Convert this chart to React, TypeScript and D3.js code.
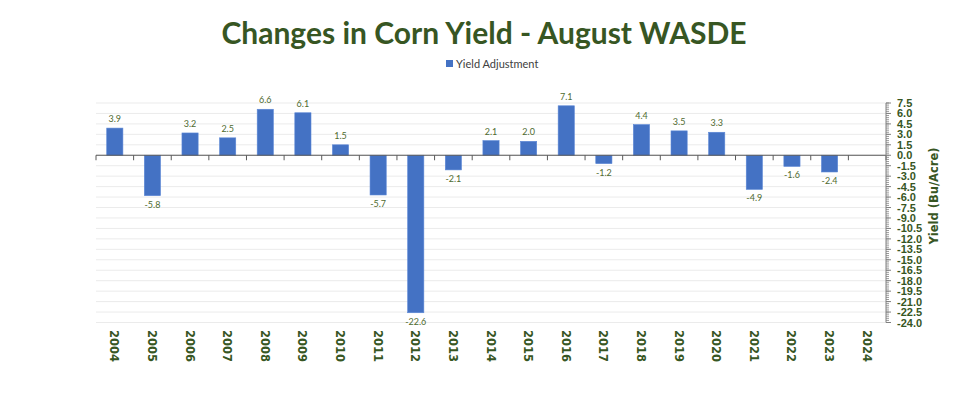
import { useEffect, useRef } from 'react';
import * as d3 from 'd3';

// chart data
const years = ['2004', '2005', '2006', '2007', '2008', '2009', '2010', '2011', '2012', '2013', '2014',
  '2015', '2016', '2017', '2018', '2019', '2020', '2021', '2022', '2023', '2024'];
const yieldAdjustment: (number | null)[] = [3.9, -5.8, 3.2, 2.5, 6.6, 6.1, 1.5, -5.7, -22.6, -2.1, 2.1,
  2.0, 7.1, -1.2, 4.4, 3.5, 3.3, -4.9, -1.6, -2.4, null];
const yTicks = d3.range(-24, 7.5 + 0.01, 1.5);
const minorTicks = d3.range(-24, 7.5 + 0.01, 0.3);

const title = 'Changes in Corn Yield - August WASDE';
const seriesName = 'Yield Adjustment';
const axisTitle = 'Yield (Bu/Acre)';

const GREEN = '#375623';
const BLUE = '#4472C4';

const fmt = (v: number) => v.toFixed(1);

const App = () => {
  const svgRef = useRef<SVGSVGElement>(null);

  useEffect(() => {
    const svg = d3.select(svgRef.current);
    svg.selectAll('*').remove();

    const width = 975;
    const height = 394;
    const plot = { left: 96, right: 886, top: 103, bottom: 322.5 };

    svg.attr('width', width).attr('height', height);

    const x = d3.scaleBand().domain(years).range([plot.left, plot.right]).paddingInner(0.57).paddingOuter(0.285);
    const y = d3.scaleLinear().domain([-24, 7.5]).range([plot.bottom, plot.top]);
    const step = x.step();

    // title
    svg.append('text')
      .attr('x', 484)
      .attr('y', 44)
      .attr('text-anchor', 'middle')
      .style('font-family', 'Lato, "Open Sans", sans-serif')
      .style('font-weight', 'bold')
      .style('font-size', '30px')
      .style('fill', GREEN)
      .text(title);

    // legend
    svg.append('rect').attr('x', 446).attr('y', 60).attr('width', 7).attr('height', 7).attr('fill', BLUE);
    svg.append('text')
      .attr('x', 456)
      .attr('y', 67.5)
      .style('font-family', 'Lato, "Open Sans", sans-serif')
      .style('font-size', '11px')
      .style('fill', '#404040')
      .text(seriesName);

    // gridlines
    svg.append('g')
      .selectAll('line')
      .data(yTicks)
      .enter()
      .append('line')
      .attr('x1', plot.left)
      .attr('x2', plot.right)
      .attr('y1', (d) => y(d))
      .attr('y2', (d) => y(d))
      .attr('stroke', '#ebebeb')
      .attr('stroke-width', 1);

    // bars
    const data = years.map((yr, i) => ({ yr, v: yieldAdjustment[i] })).filter((d) => d.v !== null) as { yr: string; v: number }[];

    svg.append('g')
      .selectAll('rect')
      .data(data)
      .enter()
      .append('rect')
      .attr('x', (d) => x(d.yr)!)
      .attr('width', x.bandwidth())
      .attr('y', (d) => y(Math.max(0, d.v)))
      .attr('height', (d) => Math.abs(y(d.v) - y(0)))
      .attr('fill', BLUE)
      .attr('stroke', '#5b87d6')
      .attr('stroke-width', 0.6);

    // data labels
    svg.append('g')
      .selectAll('text')
      .data(data)
      .enter()
      .append('text')
      .attr('x', (d) => x(d.yr)! + x.bandwidth() / 2)
      .attr('y', (d) => (d.v >= 0 ? y(d.v) - 6 : y(d.v) + 12))
      .attr('text-anchor', 'middle')
      .style('font-family', 'Lato, "Open Sans", sans-serif')
      .style('font-size', '9px')
      .style('fill', '#4f6b2f')
      .text((d) => fmt(d.v));

    // zero line with category ticks
    const zero = svg.append('g');
    zero.append('line')
      .attr('x1', plot.left)
      .attr('x2', plot.right)
      .attr('y1', y(0))
      .attr('y2', y(0))
      .attr('stroke', '#595959')
      .attr('stroke-width', 1.2);
    zero.selectAll('line.tick')
      .data(d3.range(years.length + 1))
      .enter()
      .append('line')
      .attr('class', 'tick')
      .attr('x1', (i) => plot.left + i * step)
      .attr('x2', (i) => plot.left + i * step)
      .attr('y1', y(0))
      .attr('y2', y(0) + 5)
      .attr('stroke', '#595959')
      .attr('stroke-width', 1);

    // right axis
    const axis = svg.append('g');
    axis.append('line')
      .attr('x1', plot.right)
      .attr('x2', plot.right)
      .attr('y1', plot.top)
      .attr('y2', plot.bottom)
      .attr('stroke', '#808080');
    axis.selectAll('line.minor')
      .data(minorTicks)
      .enter()
      .append('line')
      .attr('class', 'minor')
      .attr('x1', plot.right)
      .attr('x2', plot.right + 3)
      .attr('y1', (d) => y(d))
      .attr('y2', (d) => y(d))
      .attr('stroke', '#808080')
      .attr('stroke-width', 0.8);
    axis.selectAll('line.major')
      .data(yTicks)
      .enter()
      .append('line')
      .attr('class', 'major')
      .attr('x1', plot.right)
      .attr('x2', plot.right + 5)
      .attr('y1', (d) => y(d))
      .attr('y2', (d) => y(d))
      .attr('stroke', '#808080');
    axis.selectAll('text')
      .data(yTicks)
      .enter()
      .append('text')
      .attr('x', plot.right + 11)
      .attr('y', (d) => y(d) + 4)
      .style('font-family', '"Liberation Sans", Arial, sans-serif')
      .style('font-weight', 'bold')
      .style('font-size', '11px')
      .style('fill', GREEN)
      .text((d) => fmt(d));

    svg.append('text')
      .attr('transform', `translate(938, 196) rotate(-90)`)
      .attr('text-anchor', 'middle')
      .style('font-family', '"DejaVu Sans", Verdana, sans-serif')
      .style('font-weight', 'bold')
      .style('font-size', '11.5px')
      .style('fill', GREEN)
      .text(axisTitle);

    // year labels
    svg.append('g')
      .selectAll('text')
      .data(years)
      .enter()
      .append('text')
      .attr('transform', (d) => `translate(${x(d)! + x.bandwidth() / 2 - 4.5}, 330) rotate(90)`)
      .style('font-family', '"DejaVu Sans", Verdana, sans-serif')
      .style('font-weight', 'bold')
      .style('font-size', '11.5px')
      .style('fill', GREEN)
      .text((d) => d);
  }, []);

  return (
    <div style={{ position: 'absolute', left: 0, top: 0, background: '#fff' }}>
      <svg ref={svgRef}></svg>
    </div>
  );
};

export default App;
